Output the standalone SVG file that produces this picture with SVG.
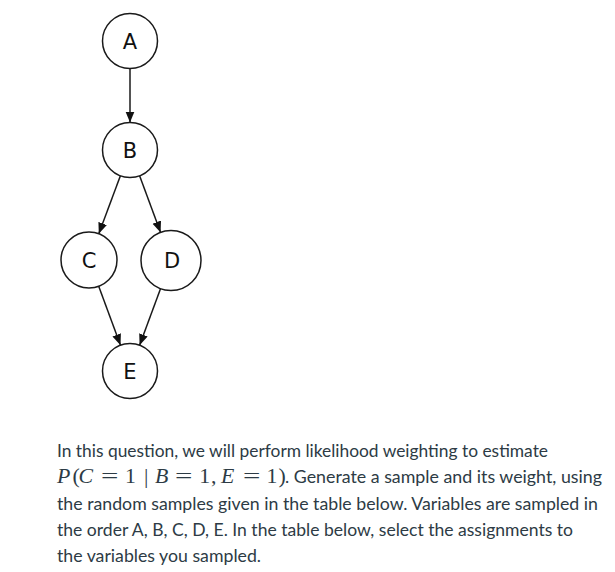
<svg xmlns="http://www.w3.org/2000/svg" width="615" height="572" viewBox="0 0 615 572">
<defs>
<style>
.node circle{fill:#fff;stroke:#1a1a1a;stroke-width:1.5}
.node text{font-family:"DejaVu Sans",Arial,sans-serif;font-size:21px;fill:#111;text-anchor:middle}
.edge{stroke:#1a1a1a;stroke-width:1.5;fill:none;marker-end:url(#arr)}
.body{font-family:Lato,"Open Sans",sans-serif;font-size:16.5px;fill:#2d3b45}
.math{font-family:"Liberation Serif","Times New Roman",serif;font-size:21.8px;fill:#2d3b45}
.it{font-style:italic}
</style>
<marker id="arr" markerUnits="userSpaceOnUse" markerWidth="12" markerHeight="10" refX="11" refY="4.5" orient="auto">
<path d="M0,0 L11,4.5 L0,9 z" fill="#111"/>
</marker>
</defs>
<rect width="615" height="572" fill="#fff"/>
<g id="connectors">
<line class="edge" x1="130" y1="69" x2="130" y2="122.5"/>
<line class="edge" x1="120.4" y1="175.8" x2="98.8" y2="233.8"/>
<line class="edge" x1="139.6" y1="175.8" x2="160.6" y2="232.4"/>
<line class="edge" x1="98.7" y1="286.3" x2="120.5" y2="345.2"/>
<line class="edge" x1="160.6" y1="288.6" x2="139.6" y2="345.2"/>
</g>
<g id="node-A" class="node"><circle cx="130" cy="41" r="27.5"/><text x="130" y="48.5">A</text></g>
<g id="node-B" class="node"><circle cx="130" cy="150" r="27.5"/><text x="130" y="157.5">B</text></g>
<g id="node-C" class="node"><circle cx="89" cy="260" r="28"/><text x="89" y="267.5">C</text></g>
<g id="node-D" class="node"><circle cx="171" cy="260.5" r="30"/><text x="172" y="268">D</text></g>
<g id="node-E" class="node"><circle cx="130" cy="371" r="27.5"/><text x="130" y="378.5">E</text></g>
<g id="caption">
<text class="body" x="57" y="457" textLength="491" lengthAdjust="spacingAndGlyphs">In this question, we will perform likelihood weighting to estimate</text>
<text class="math" y="482.5"><tspan class="it" x="57">P</tspan><tspan x="72.5">(</tspan><tspan class="it" x="78.5">C</tspan><tspan x="125">1</tspan><tspan x="144">|</tspan><tspan class="it" x="155">B</tspan><tspan x="199.3">1</tspan><tspan x="211">,</tspan><tspan class="it" x="221">E</tspan><tspan x="266.6">1</tspan><tspan x="278.5">)</tspan></text>
<text class="math" x="101" y="482.5" textLength="17.4" lengthAdjust="spacingAndGlyphs">=</text>
<text class="math" x="175" y="482.5" textLength="17.4" lengthAdjust="spacingAndGlyphs">=</text>
<text class="math" x="243" y="482.5" textLength="17.4" lengthAdjust="spacingAndGlyphs">=</text>
<text class="body" x="285" y="482.5" textLength="317" lengthAdjust="spacingAndGlyphs">. Generate a sample and its weight, using</text>
<text class="body" x="57" y="510" textLength="541" lengthAdjust="spacingAndGlyphs">the random samples given in the table below. Variables are sampled in</text>
<text class="body" x="57" y="536" textLength="516" lengthAdjust="spacingAndGlyphs">the order A, B, C, D, E. In the table below, select the assignments to</text>
<text class="body" x="57" y="562" textLength="204" lengthAdjust="spacingAndGlyphs">the variables you sampled.</text>
</g>
</svg>
